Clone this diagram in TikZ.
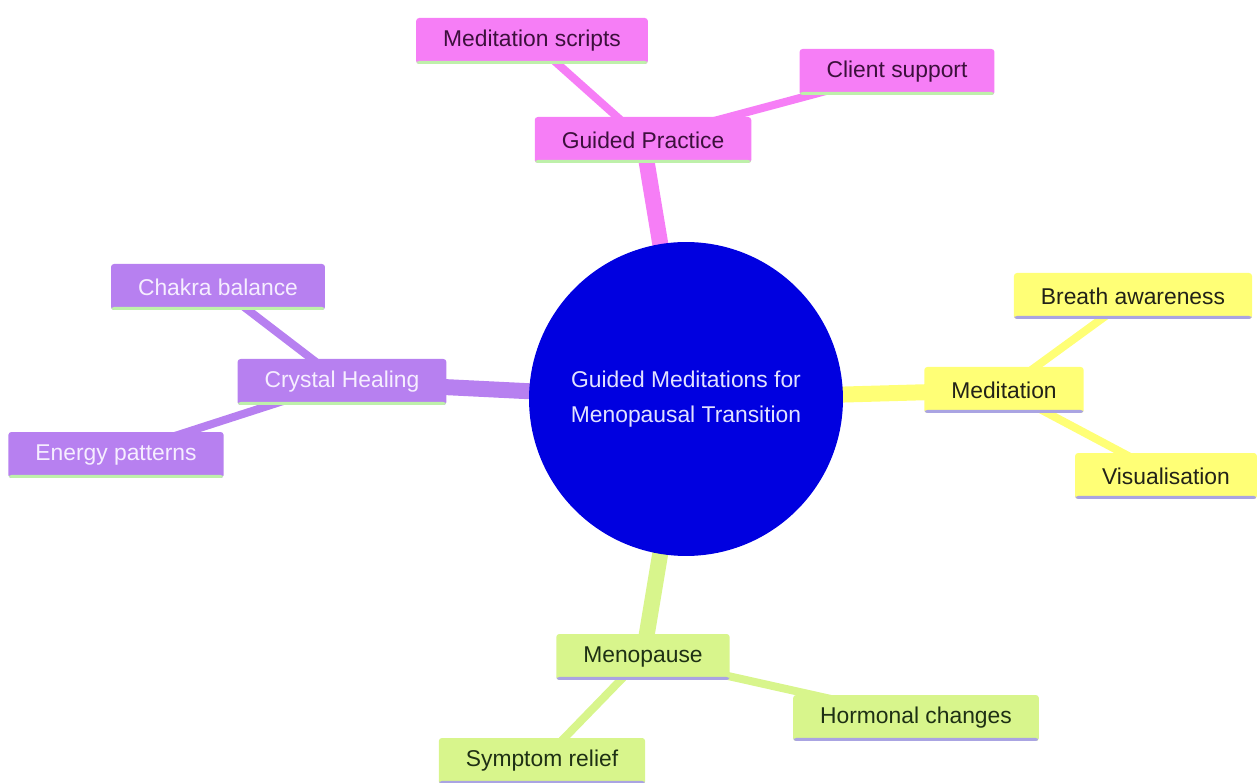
\documentclass[tikz,border=0pt]{standalone}
\usepackage{fontspec}
\setmainfont{Liberation Sans}
\usetikzlibrary{backgrounds}
\definecolor{mitteblau}{RGB}{0,0,224}
\definecolor{mittetext}{RGB}{226,226,255}
\definecolor{rosa}{RGB}{246,126,246}
\definecolor{rosatext}{RGB}{60,16,60}
\definecolor{lila}{RGB}{183,128,240}
\definecolor{lilatext}{RGB}{246,238,255}
\definecolor{gelb}{RGB}{255,255,118}
\definecolor{gelbtext}{RGB}{34,34,24}
\definecolor{gruen}{RGB}{216,245,140}
\definecolor{gruentext}{RGB}{30,48,20}
\definecolor{kantegruen}{RGB}{190,240,170}
\definecolor{kantelila}{RGB}{170,164,226}
\tikzset{
	blatt/.style={rectangle, rounded corners=0.06cm, inner xsep=0.54cm, minimum height=0.92cm,
		font=\fontsize{13}{15}\selectfont},
	unterkante/.style={path picture={\fill[#1] ([yshift=0.06cm]path picture bounding box.south west) rectangle (path picture bounding box.south east);}},
	practice/.style={blatt, fill=rosa, text=rosatext, unterkante=kantegruen},
	crystal/.style={blatt, fill=lila, text=lilatext, unterkante=kantegruen},
	meditation/.style={blatt, fill=gelb, text=gelbtext, unterkante=kantelila},
	menopause/.style={blatt, fill=gruen, text=gruentext, unterkante=kantelila},
	ast/.style={line width=0.32cm},
	zweig/.style={line width=0.16cm}
}
\begin{document}
\begin{tikzpicture}[x=0.02cm, y=-0.02cm]
		\useasboundingbox (0, 0) rectangle (1259, 783);
		% Mitte
		\node [circle, fill=mitteblau, text=mittetext, minimum size=6.28cm, align=center,
			font=\fontsize{13}{19.5}\selectfont] (mitte) at (686, 399) {Guided Meditations for\\Menopausal Transition};
		% Oben
		\begin{scope}
			\node [practice] (gp) at (643, 140) {Guided Practice};
			\node [practice] (ms) at (532, 41) {Meditation scripts};
			\node [practice] (cs) at (897, 72) {Client support};
		\end{scope}
		% Links
		\begin{scope}
			\node [crystal] (ch) at (342, 382) {Crystal Healing};
			\node [crystal] (cb) at (218, 287) {Chakra balance};
			\node [crystal] (ep) at (116, 455) {Energy patterns};
		\end{scope}
		% Rechts
		\begin{scope}
			\node [meditation] (med) at (1004, 390) {Meditation};
			\node [meditation] (ba) at (1133, 296) {Breath awareness};
			\node [meditation] (vis) at (1166, 476) {Visualisation};
		\end{scope}
		% Unten
		\begin{scope}
			\node [menopause] (meno) at (643, 657) {Menopause};
			\node [menopause] (hc) at (916, 718) {Hormonal changes};
			\node [menopause] (sr) at (542, 761) {Symptom relief};
		\end{scope}
		% Linien
		\begin{scope}[on background layer]
			\draw [ast, rosa] (mitte.center) -- (gp.center);
			\draw [zweig, rosa] (gp.center) -- (ms.center);
			\draw [zweig, rosa] (gp.center) -- (cs.center);
			\draw [ast, lila] (mitte.center) -- (ch.center);
			\draw [zweig, lila] (ch.center) -- (cb.center);
			\draw [zweig, lila] (ch.center) -- (ep.center);
			\draw [ast, gelb] (mitte.center) -- (med.center);
			\draw [zweig, gelb] (med.center) -- (ba.center);
			\draw [zweig, gelb] (med.center) -- (vis.center);
			\draw [ast, gruen] (mitte.center) -- (meno.center);
			\draw [zweig, gruen] (meno.center) -- (hc.center);
			\draw [zweig, gruen] (meno.center) -- (sr.center);
		\end{scope}
	\end{tikzpicture}
\end{document}
